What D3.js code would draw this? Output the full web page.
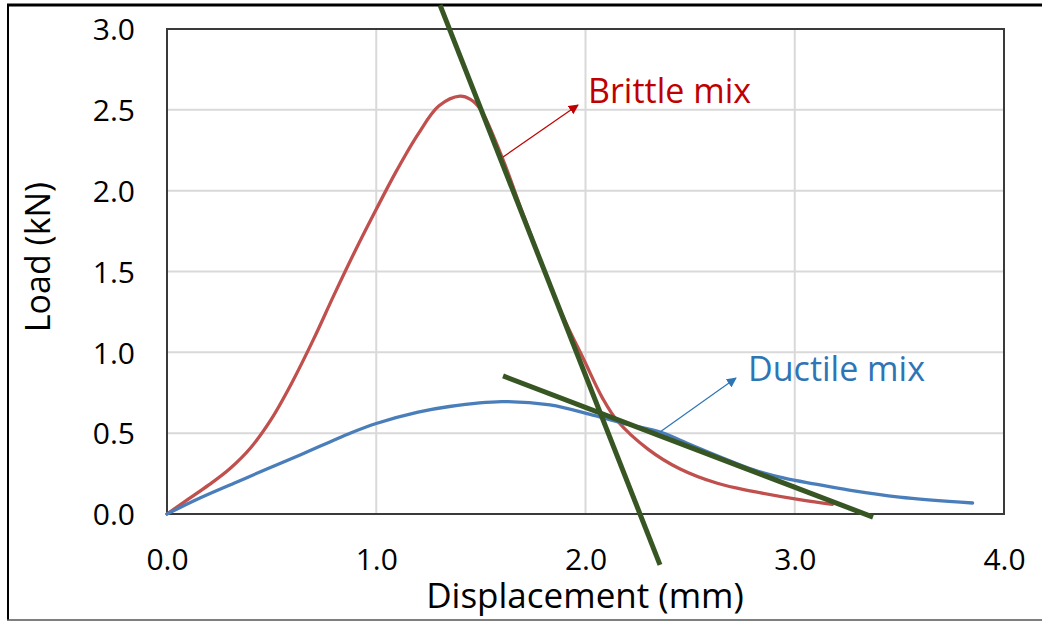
<!DOCTYPE html>
<html>
<head>
<meta charset="utf-8">
<script src="https://cdn.jsdelivr.net/npm/d3@7"></script>
<style>
  html, body { margin: 0; padding: 0; background: #fff; }
  svg { display: block; font-family: "Open Sans", "Noto Sans", sans-serif; }
</style>
</head>
<body>
<svg id="chart" width="1042" height="621"></svg>
<script>
// Load–displacement curves of the two mixes
const brittleX = [0, 0.1, 0.2, 0.3, 0.4, 0.5, 0.6, 0.7, 0.8, 0.9, 1.0, 1.1, 1.2, 1.3, 1.4, 1.45, 1.5, 1.6, 1.7, 1.8, 1.9, 1.99, 2.08, 2.15, 2.3, 2.45, 2.63, 2.8, 3.03, 3.18];
const brittleY = [0, 0.09, 0.18, 0.28, 0.41, 0.59, 0.82, 1.08, 1.36, 1.63, 1.885, 2.13, 2.35, 2.525, 2.585, 2.565, 2.50, 2.21, 1.86, 1.52, 1.20, 0.96, 0.72, 0.58, 0.40, 0.28, 0.19, 0.14, 0.087, 0.06];

const ductileX = [0, 0.16, 0.32, 0.48, 0.636, 0.875, 1.0, 1.2, 1.35, 1.6, 1.83, 2.04, 2.2, 2.36, 2.5, 2.65, 2.8, 2.95, 3.1, 3.26, 3.5, 3.85];
const ductileY = [0, 0.10, 0.19, 0.28, 0.365, 0.50, 0.56, 0.63, 0.665, 0.695, 0.675, 0.61, 0.555, 0.505, 0.43, 0.35, 0.275, 0.222, 0.185, 0.148, 0.105, 0.068];

// Straight fitted lines (start / end points, in data units)
const brittleTangentX = [1.305, 2.356];
const brittleTangentY = [3.148, -0.315];
const ductileTangentX = [1.606, 3.374];
const ductileTangentY = [0.854, -0.019];

// Axis ticks
const xTicks = [0, 1, 2, 3, 4];
const yTicks = [0, 0.5, 1, 1.5, 2, 2.5, 3];

// Callouts: label anchor and arrow (tail -> head), data units
const brittleLabel = { text: "Brittle mix", x: 2.012, y: 2.542 };
const brittleArrow = { x1: 1.606, y1: 2.208, x2: 1.964, y2: 2.530 };
const ductileLabel = { text: "Ductile mix", x: 2.777, y: 0.823 };
const ductileArrow = { x1: 2.356, y1: 0.507, x2: 2.719, y2: 0.841 };

const svg = d3.select("#chart");
const W = 1042, H = 621;
const plot = { left: 167, right: 1004, top: 29, bottom: 514 };

const x = d3.scaleLinear().domain([0, 4]).range([plot.left, plot.right]);
const y = d3.scaleLinear().domain([0, 3]).range([plot.bottom, plot.top]);

svg.append("rect").attr("width", W).attr("height", H).attr("fill", "#fff");

// Outer frame (top, left, bottom)
svg.append("line").attr("x1", 7).attr("x2", W).attr("y1", 5).attr("y2", 5)
  .attr("stroke", "#000").attr("stroke-width", 3);
svg.append("line").attr("x1", 8).attr("x2", 8).attr("y1", 4).attr("y2", 620)
  .attr("stroke", "#000").attr("stroke-width", 2);
svg.append("line").attr("x1", 7).attr("x2", W).attr("y1", 620).attr("y2", 620)
  .attr("stroke", "#555").attr("stroke-width", 1.5);

// Gridlines
const grid = svg.append("g");
grid.selectAll("line.h").data(yTicks.filter(d => d > 0 && d < 3)).join("line")
  .attr("class", "h")
  .attr("x1", plot.left).attr("x2", plot.right)
  .attr("y1", d => y(d)).attr("y2", d => y(d))
  .attr("stroke", "#d9d9d9").attr("stroke-width", 2);
grid.selectAll("line.v").data(xTicks.filter(d => d > 0 && d < 4)).join("line")
  .attr("class", "v")
  .attr("x1", d => x(d)).attr("x2", d => x(d))
  .attr("y1", plot.top).attr("y2", plot.bottom)
  .attr("stroke", "#d9d9d9").attr("stroke-width", 2);

// Plot border
svg.append("rect")
  .attr("x", plot.left).attr("y", plot.top)
  .attr("width", plot.right - plot.left).attr("height", plot.bottom - plot.top)
  .attr("fill", "none").attr("stroke", "#3a3a3a").attr("stroke-width", 2);

// Axes (labels only, the frame draws the lines)
const xAxis = d3.axisBottom(x).tickValues(xTicks).tickFormat(d3.format(".1f")).tickSize(0).tickPadding(0);
const yAxis = d3.axisLeft(y).tickValues(yTicks).tickFormat(d3.format(".1f")).tickSize(0).tickPadding(0);

const gx = svg.append("g").attr("transform", `translate(0,${plot.bottom})`).call(xAxis);
gx.select(".domain").remove();
gx.selectAll("text")
  .attr("dy", null).attr("y", 56)
  .attr("font-family", "Open Sans").attr("font-size", 30).attr("fill", "#000");

const gy = svg.append("g").attr("transform", `translate(135,0)`).call(yAxis);
gy.select(".domain").remove();
gy.selectAll("text")
  .attr("x", 0).attr("dy", "0.36em")
  .attr("font-family", "Open Sans").attr("font-size", 30).attr("fill", "#000");

// Axis titles
svg.append("text")
  .attr("x", 585).attr("y", 608)
  .attr("text-anchor", "middle")
  .attr("font-size", 35).attr("fill", "#000")
  .text("Displacement (mm)");
svg.append("text")
  .attr("transform", "translate(50,257) rotate(-90)")
  .attr("text-anchor", "middle")
  .attr("font-size", 34).attr("fill", "#000")
  .text("Load (kN)");

// Curves
const curve = d3.line()
  .x(d => x(d[0])).y(d => y(d[1]))
  .curve(d3.curveCatmullRom.alpha(0.5));

svg.append("path")
  .attr("d", curve(brittleX.map((v, i) => [v, brittleY[i]])))
  .attr("fill", "none").attr("stroke", "#c0504d").attr("stroke-width", 3.3)
  .attr("stroke-linecap", "round");
svg.append("path")
  .attr("d", curve(ductileX.map((v, i) => [v, ductileY[i]])))
  .attr("fill", "none").attr("stroke", "#4a7ebb").attr("stroke-width", 3.3)
  .attr("stroke-linecap", "round");

// Fitted straight lines
const straight = d3.line().x(d => x(d[0])).y(d => y(d[1]));
[[brittleTangentX, brittleTangentY], [ductileTangentX, ductileTangentY]].forEach(([xs, ys]) => {
  svg.append("path")
    .attr("d", straight(xs.map((v, i) => [v, ys[i]])))
    .attr("fill", "none").attr("stroke", "#375623").attr("stroke-width", 5);
});

// Arrow heads
const defs = svg.append("defs");
[["arrowRed", "#c00000"], ["arrowBlue", "#2e75b6"]].forEach(([id, c]) => {
  defs.append("marker")
    .attr("id", id).attr("viewBox", "0 0 10 10")
    .attr("refX", 9).attr("refY", 5)
    .attr("markerWidth", 10).attr("markerHeight", 10)
    .attr("markerUnits", "userSpaceOnUse")
    .attr("orient", "auto")
    .append("path").attr("d", "M0,0 L10,5 L0,10 Z").attr("fill", c);
});

function callout(label, arrow, color, markerId) {
  svg.append("line")
    .attr("x1", x(arrow.x1)).attr("y1", y(arrow.y1))
    .attr("x2", x(arrow.x2)).attr("y2", y(arrow.y2))
    .attr("stroke", color).attr("stroke-width", 1.2)
    .attr("marker-end", `url(#${markerId})`);
  svg.append("text")
    .attr("x", x(label.x)).attr("y", y(label.y))
    .attr("font-size", 34).attr("fill", color)
    .text(label.text);
}
callout(brittleLabel, brittleArrow, "#c00000", "arrowRed");
callout(ductileLabel, ductileArrow, "#2e75b6", "arrowBlue");
</script>
</body>
</html>
